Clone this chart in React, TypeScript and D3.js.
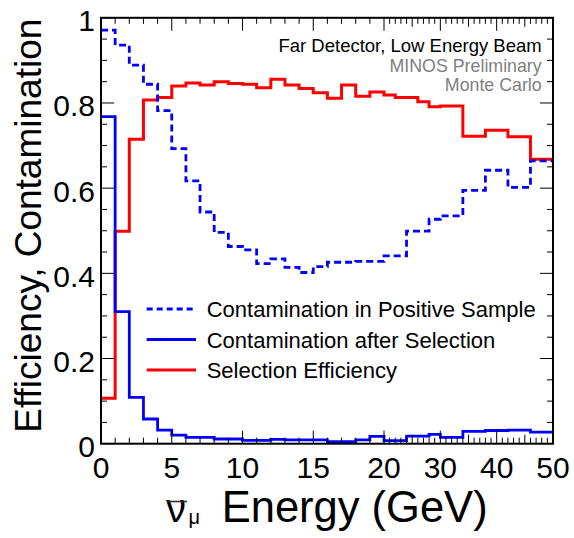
import React from 'react';
import * as d3 from 'd3';

// ---- data ----
const binEdges = [0, 1, 2, 3, 4, 5, 6, 7, 8, 9, 10, 11, 12, 13, 14, 15, 16, 17, 18, 19, 20, 22, 24, 26, 28, 30, 34, 38, 42, 46, 50];
const contamPositive = [0.971, 0.936, 0.889, 0.844, 0.782, 0.693, 0.617, 0.544, 0.496, 0.463, 0.455, 0.423, 0.434, 0.414, 0.402, 0.416, 0.426, 0.426, 0.428, 0.428, 0.441, 0.441, 0.499, 0.499, 0.527, 0.535, 0.595, 0.642, 0.602, 0.664];
const contamAfterSel = [0.768, 0.31, 0.109, 0.058, 0.032, 0.02, 0.015, 0.015, 0.011, 0.011, 0.008, 0.008, 0.01, 0.009, 0.009, 0.009, 0.005, 0.005, 0.009, 0.017, 0.007, 0.007, 0.018, 0.018, 0.022, 0.015, 0.029, 0.031, 0.032, 0.027];
const selEfficiency = [0.107, 0.499, 0.715, 0.807, 0.813, 0.84, 0.847, 0.842, 0.85, 0.846, 0.844, 0.836, 0.856, 0.842, 0.834, 0.824, 0.811, 0.842, 0.816, 0.826, 0.819, 0.813, 0.813, 0.803, 0.791, 0.793, 0.722, 0.736, 0.721, 0.668];

const xMajorTicks = [0, 5, 10, 15, 20, 30, 40, 50];
const xMediumTicks = [25, 35, 45];
const xMinorTicks = d3.range(0, 51, 1);
const yMajorTicks = [0, 0.2, 0.4, 0.6, 0.8, 1];
const yMinorTicks = d3.range(0, 1.0001, 0.05);

const legendLabels = ['Contamination in Positive Sample', 'Contamination after Selection', 'Selection Efficiency'];
const infoLines = ['Far Detector, Low Energy Beam', 'MINOS Preliminary', 'Monte Carlo'];

const FONT = "'Liberation Sans', Arial, Helvetica, sans-serif";

export default function App() {
  const x = d3.scaleLinear().domain([0, 20, 50]).range([101, 384, 553]);
  const y = d3.scaleLinear().domain([0, 1]).range([443.7, 17.8]);
  const [x0, x1] = [x(0), x(50)];
  const [yb, yt] = [y(0), y(1)];

  const stepPath = (vals: number[]) => {
    const pts: [number, number][] = vals.map((v, i) => [binEdges[i], v]);
    pts.push([binEdges[binEdges.length - 1], vals[vals.length - 1]]);
    return d3.line<[number, number]>()
      .x(d => x(d[0]))
      .y(d => y(d[1]))
      .curve(d3.curveStepAfter)(pts) as string;
  };

  const xTickLen = (t: number) => (xMajorTicks.includes(t) ? 13 : xMediumTicks.includes(t) ? 9 : 6);
  const yIsMajor = (t: number) => yMajorTicks.some(m => Math.abs(m - t) < 1e-6);

  const series = [
    { vals: selEfficiency, color: '#ff0000', dash: undefined as string | undefined, width: 3 },
    { vals: contamPositive, color: '#0000ff', dash: '7,4', width: 2.8 },
    { vals: contamAfterSel, color: '#0000ff', dash: undefined, width: 2.8 },
  ];
  const legendSeries = [series[1], series[2], series[0]];
  const legendY = [309, 339.5, 370];

  return (
    <svg width={574} height={538} style={{ position: 'absolute', left: 0, top: 0, background: '#fff' }} fontFamily={FONT}>
      <rect x={0} y={0} width={574} height={538} fill="#fff" />
      {/* histograms */}
      {series.map((s, i) => (
        <path key={i} d={stepPath(s.vals)} fill="none" stroke={s.color} strokeWidth={s.width} strokeDasharray={s.dash} />
      ))}

      {/* x ticks bottom & top */}
      {xMinorTicks.map(t => (
        <g key={'xt' + t}>
          <line x1={x(t)} x2={x(t)} y1={yb} y2={yb - xTickLen(t)} stroke="#000" strokeWidth={1} />
          <line x1={x(t)} x2={x(t)} y1={yt} y2={yt + xTickLen(t)} stroke="#000" strokeWidth={1} />
        </g>
      ))}
      {/* y ticks left & right */}
      {yMinorTicks.map(t => (
        <g key={'yt' + t.toFixed(2)}>
          <line x1={x0} x2={x0 + (yIsMajor(t) ? 13 : 6)} y1={y(t)} y2={y(t)} stroke="#000" strokeWidth={1} />
          <line x1={x1} x2={x1 - (yIsMajor(t) ? 13 : 6)} y1={y(t)} y2={y(t)} stroke="#000" strokeWidth={1} />
        </g>
      ))}

      {/* frame */}
      <rect x={x0} y={yt} width={x1 - x0} height={yb - yt} fill="none" stroke="#000" strokeWidth={2} />

      {/* tick labels */}
      {xMajorTicks.map(t => (
        <text key={'xl' + t} x={x(t)} y={478} fontSize={30} textAnchor="middle" fill="#000">{t}</text>
      ))}
      {yMajorTicks.map(t => (
        <text key={'yl' + t} x={95} y={y(t) + 13.5} fontSize={30} textAnchor="end" fill="#000">{t === 0 ? '0' : t === 1 ? '1' : t.toFixed(1)}</text>
      ))}

      {/* axis titles */}
      <text transform={`translate(41,${(yb + yt) / 2 - 5}) rotate(-90)`} fontSize={37} textAnchor="middle" fill="#000">Efficiency, Contamination</text>
      <g fill="#000">
        <text x={166} y={521.7} fontSize={40}>ν</text>
        <line x1={167} x2={187} y1={501.5} y2={501.5} stroke="#333" strokeWidth={1.6} />
        <text x={188.5} y={523.5} fontSize={20}>μ</text>
        <text x={221.7} y={521.7} fontSize={43.5}>Energy (GeV)</text>
      </g>

      {/* info text */}
      {infoLines.map((l, i) => (
        <text key={'info' + i} x={541.7} y={[51.5, 71.5, 91][i]} fontSize={i === 0 ? 18.5 : 17.8} textAnchor="end" fill={i === 0 ? '#000' : '#7f7f7f'}>{l}</text>
      ))}

      {/* legend */}
      {legendLabels.map((l, i) => (
        <g key={'leg' + i}>
          <line x1={146.7} x2={196} y1={legendY[i]} y2={legendY[i]} stroke={legendSeries[i].color} strokeWidth={legendSeries[i].width} strokeDasharray={legendSeries[i].dash ? '6,4' : undefined} />
          <text x={206.7} y={legendY[i] + 8} fontSize={22} fill="#000">{l}</text>
        </g>
      ))}
    </svg>
  );
}
